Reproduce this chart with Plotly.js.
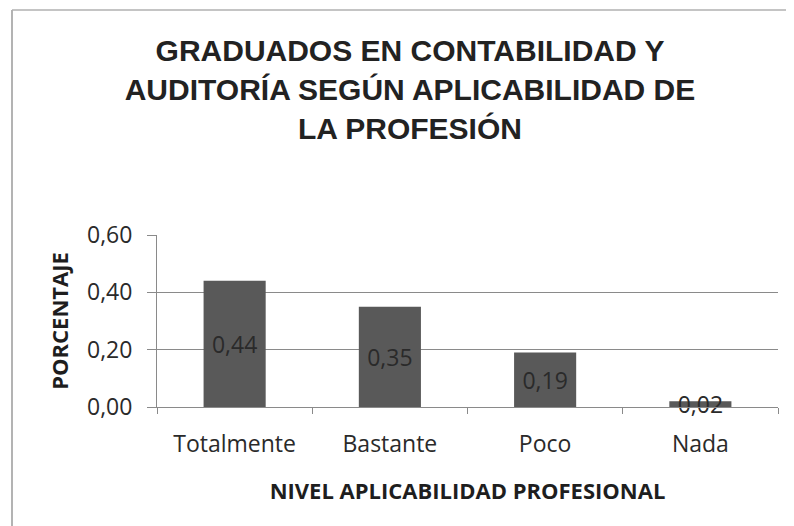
<!DOCTYPE html>
<html>
<head>
<meta charset="utf-8">
<script src="https://cdn.plot.ly/plotly-3.0.1.min.js"></script>
<style>html,body{margin:0;padding:0;background:#fff;}#chart{width:794px;height:526px;}</style>
</head>
<body>
<div id="chart"></div>
<script>
// Data
var categories = ["Totalmente", "Bastante", "Poco", "Nada"];
var values = [0.44, 0.35, 0.19, 0.02];
var yTickValues = [0, 0.2, 0.4, 0.6];
var chartTitle = "GRADUADOS EN CONTABILIDAD Y<br>AUDITORÍA SEGÚN APLICABILIDAD DE<br>LA PROFESIÓN";
var xTitle = "NIVEL APLICABILIDAD PROFESIONAL";
var yTitle = "PORCENTAJE";

var W = 794, H = 526;
var M = {l: 157, r: 16, t: 235, b: 119};
var pw = W - M.l - M.r, ph = H - M.t - M.b;
function px(x) { return (x - M.l) / pw; }
function py(y) { return (H - M.b - y) / ph; }

var bodyFont = "Open Sans, Lato, sans-serif";

var trace = {
  type: "bar",
  x: categories,
  y: values,
  marker: {color: "#595959", line: {width: 0}},
  texttemplate: "%{y:.2f}",
  textposition: "inside",
  insidetextanchor: "middle",
  constraintext: "none",
  cliponaxis: false,
  textfont: {family: bodyFont, size: 23, color: "#2a2a2a"},
  insidetextfont: {family: bodyFont, size: 23, color: "#2a2a2a"},
  hoverinfo: "skip"
};

var layout = {
  width: W, height: H,
  margin: M,
  paper_bgcolor: "#ffffff",
  plot_bgcolor: "#ffffff",
  separators: ",.",
  showlegend: false,
  bargap: 0.6,
  title: {
    text: chartTitle,
    font: {family: "Liberation Sans, Arial, sans-serif", size: 30, color: "#222222", weight: "bold"},
    xref: "container", x: 410 / W, xanchor: "center",
    yref: "container", y: 1 - 61 / H, yanchor: "top"
  },
  xaxis: {
    type: "category",
    showline: true, linecolor: "#8a8a8a", linewidth: 1,
    ticks: "outside", ticklen: 6, tickcolor: "#8a8a8a", tickson: "boundaries",
    tickfont: {family: bodyFont, size: 23, color: "#2a2a2a"},
    ticklabelstandoff: 16,
    showgrid: false,
    title: {text: xTitle, font: {family: bodyFont, size: 22, color: "#1e1e1e", weight: "bold"}, standoff: 26}
  },
  yaxis: {
    range: [0, 0.6],
    tickvals: yTickValues,
    tickformat: ".2f",
    showline: true, linecolor: "#8a8a8a", linewidth: 1,
    ticks: "outside", ticklen: 9, tickcolor: "#8a8a8a",
    showgrid: true, gridcolor: "#8a8a8a", gridwidth: 1,
    zeroline: false,
    tickfont: {family: bodyFont, size: 23, color: "#2a2a2a"},
    ticklabelstandoff: 10,
    title: {text: yTitle, font: {family: bodyFont, size: 22, color: "#1e1e1e", weight: "bold"}, standoff: 12}
  },
  shapes: [
    {type: "line", xref: "paper", yref: "paper", x0: px(12), x1: px(12), y0: py(10), y1: py(526), line: {color: "#9a9a9a", width: 1.5}},
    {type: "line", xref: "paper", yref: "paper", x0: px(12), x1: px(786), y0: py(10), y1: py(10), line: {color: "#b0b0b0", width: 1.5}}
  ]
};

Plotly.newPlot("chart", [trace], layout, {displayModeBar: false, staticPlot: true});
</script>
</body>
</html>
